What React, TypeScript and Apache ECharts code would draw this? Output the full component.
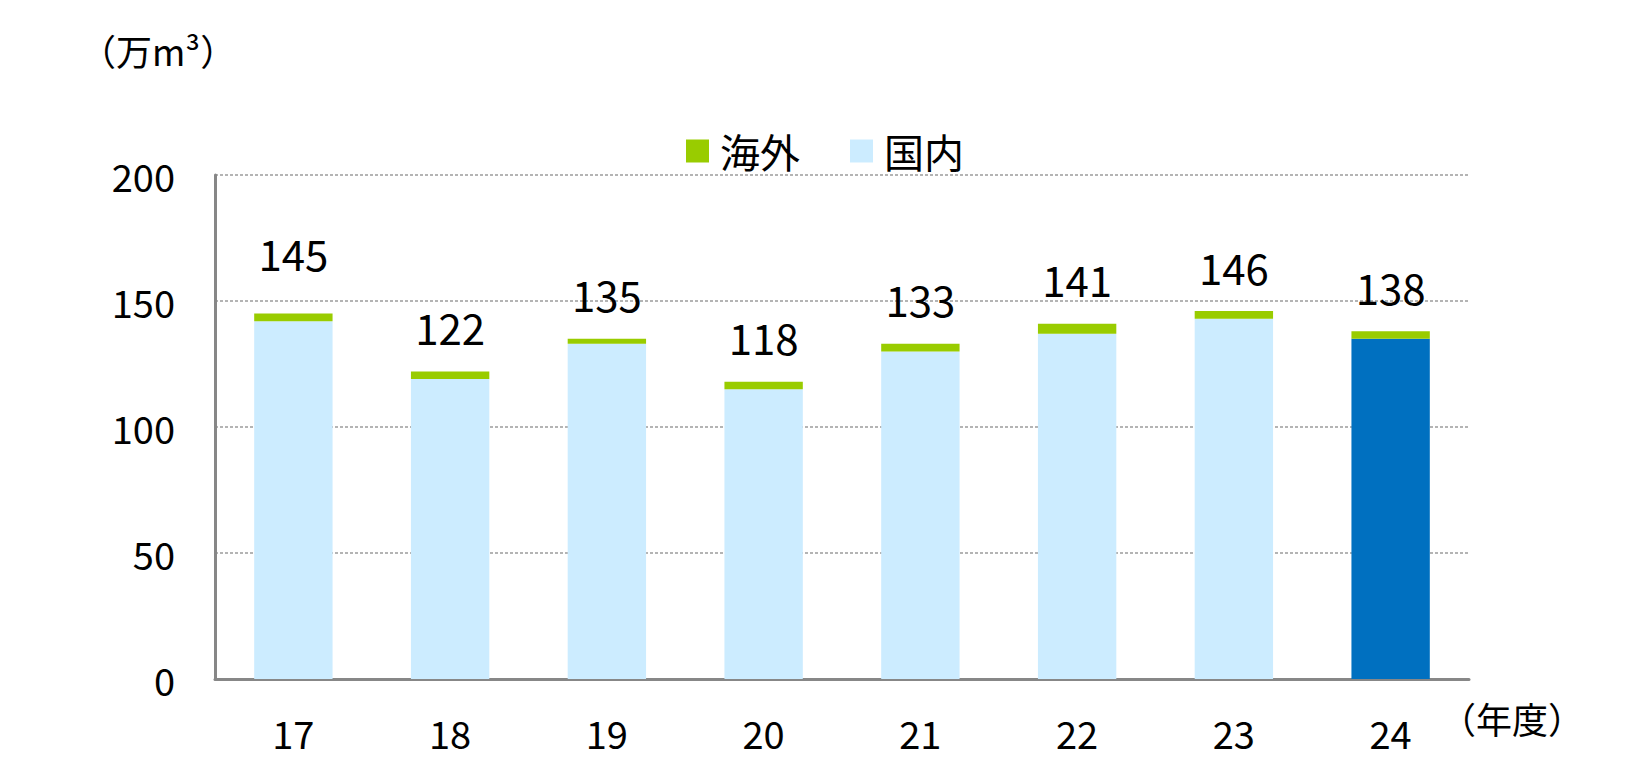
import React, { useEffect, useRef } from 'react';
import * as echarts from 'echarts';

const years = ['17', '18', '19', '20', '21', '22', '23', '24'];
const domestic = [142, 119, 133, 115, 130, 137, 143, 135];
const overseas = [3, 3, 2, 3, 3, 4, 3, 3];
const totals = [145, 122, 135, 118, 133, 141, 146, 138];
const yTicks = { min: 0, max: 200, interval: 50 };

const FONT = '"Noto Sans CJK JP", "Noto Sans", sans-serif';

const App: React.FC = () => {
  const chartRef = useRef<HTMLDivElement>(null);

  useEffect(() => {
    if (!chartRef.current) return;
    const chart = echarts.init(chartRef.current, undefined, { renderer: 'svg' });

    const option: echarts.EChartsOption = {
      animation: false,
      textStyle: { fontFamily: FONT },
      grid: { left: 215, right: 174, top: 175, bottom: 92 },
      legend: {
        data: ['海外', '国内'],
        left: 681,
        top: 126,
        icon: 'rect',
        itemWidth: 23,
        itemHeight: 23,
        itemGap: 50,
        textStyle: { fontSize: 40, color: '#000', fontFamily: FONT, padding: [0, 0, 0, 6] }
      },
      xAxis: {
        type: 'category',
        data: years,
        axisLine: { lineStyle: { color: '#878787', width: 3 } },
        axisTick: { show: false },
        axisLabel: { fontSize: 38, color: '#000', margin: 34, fontFamily: FONT }
      },
      yAxis: {
        type: 'value',
        min: yTicks.min,
        max: yTicks.max,
        interval: yTicks.interval,
        axisLine: { show: true, lineStyle: { color: '#878787', width: 3 } },
        axisTick: { show: false },
        axisLabel: { fontSize: 38, color: '#000', margin: 40, fontFamily: FONT },
        splitLine: { lineStyle: { color: '#b4b4b4', width: 2, type: [3, 2] } }
      },
      series: [
        {
          name: '国内',
          type: 'bar',
          stack: 'total',
          barWidth: '50%',
          itemStyle: { color: '#CCECFF' },
          data: domestic.map((v, i) =>
            i === domestic.length - 1 ? { value: v, itemStyle: { color: '#0070C0' } } : v
          )
        },
        {
          name: '海外',
          type: 'bar',
          stack: 'total',
          barWidth: '50%',
          itemStyle: { color: '#99CC00' },
          label: {
            show: true,
            position: 'top',
            distance: 24,
            fontSize: 42,
            color: '#000',
            fontFamily: FONT,
            formatter: (p: any) => String(totals[p.dataIndex])
          },
          // the first label sits a little higher in the original
          data: overseas.map((v, i) =>
            i === 0 ? { value: v, label: { offset: [0, -16] } } : v
          )
        }
      ],
      graphic: [
        {
          type: 'text',
          left: 80,
          top: 32,
          style: { text: '（万m³）', fontSize: 36, fill: '#000', fontFamily: FONT }
        },
        {
          type: 'text',
          left: 1440,
          top: 700,
          style: { text: '（年度）', fontSize: 36, fill: '#000', fontFamily: FONT }
        }
      ]
    };

    chart.setOption(option);
    return () => {
      chart.dispose();
    };
  }, []);

  return (
    <div
      ref={chartRef}
      style={{ position: 'fixed', left: 0, top: 0, width: 1643, height: 771, background: '#fff' }}
    />
  );
};

export default App;
